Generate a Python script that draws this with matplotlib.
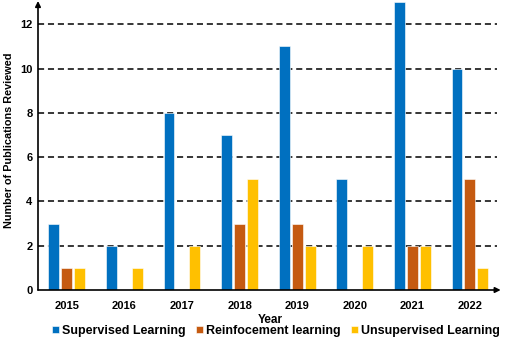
import matplotlib
matplotlib.use("Agg")
import matplotlib.pyplot as plt
import numpy as np

years = ["2015", "2016", "2017", "2018", "2019", "2020", "2021", "2022"]
supervised = [3, 2, 8, 7, 11, 5, 13, 10]
reinforcement = [1, 0, 0, 3, 3, 0, 2, 5]
unsupervised = [1, 1, 2, 5, 2, 2, 2, 1]
series_names = ["Supervised Learning", "Reinfocement learning", "Unsupervised Learning"]
colors = ["#0070C0", "#C55A11", "#FFC000"]
yticks = [0, 2, 4, 6, 8, 10, 12]

plt.rcParams['font.family'] = ['Liberation Sans', 'DejaVu Sans']
plt.rcParams['font.weight'] = 'bold'

W, H = 505, 339
fig = plt.figure(figsize=(W / 100, H / 100), dpi=100)
# axes box in pixel coords: left 38, right 497, bottom 290, top 1
ax = fig.add_axes([38 / W, (H - 290) / H, (497 - 38) / W, 289 / H])

x = np.arange(len(years))
w = 0.19
off = 0.225
for i, vals in enumerate([supervised, reinforcement, unsupervised]):
    ax.bar(x + (i - 1) * off, vals, width=w, color=colors[i],
           edgecolor='white', linewidth=0.4, label=series_names[i], zorder=3)

ax.set_xlim(-0.5, 7.47)
ax.set_ylim(0, 13.05)
ax.set_yticks(yticks)
ax.set_xticks(x)
ax.set_xticklabels(years)
ax.tick_params(axis='both', length=0, labelsize=8, pad=4)
ax.tick_params(axis='x', pad=8)

for y in yticks[1:]:
    ax.axhline(y, color='black', linestyle=(0, (4, 2.5)), linewidth=1.1, zorder=1)

for s in ['top', 'right', 'left', 'bottom']:
    ax.spines[s].set_visible(False)

# axis arrows
ax.annotate('', xy=(0, 1.0), xytext=(0, 0), xycoords='axes fraction',
            arrowprops=dict(arrowstyle='-|>', color='black', lw=1.2,
                            mutation_scale=8, shrinkA=0, shrinkB=0))
ax.annotate('', xy=(1.008, 0), xytext=(0, 0), xycoords='axes fraction',
            arrowprops=dict(arrowstyle='-|>', color='black', lw=1.2,
                            mutation_scale=8, shrinkA=0, shrinkB=0))

fig.text(9 / W, 1 - 140 / H, "Number of Publications Reviewed", rotation=90,
         ha='center', va='center', fontsize=7.8)
fig.text(270 / W, 1 - 320 / H, "Year", ha='center', va='center', fontsize=8.5)

handles, labels = ax.get_legend_handles_labels()
fig.legend(handles, labels, loc='center', bbox_to_anchor=(276 / W, 1 - 331 / H),
           ncol=3, frameon=False, fontsize=9, handlelength=0.55, handleheight=0.55,
           handletextpad=0.25, columnspacing=0.8, borderpad=0)

fig.savefig("out.png", dpi=100)
